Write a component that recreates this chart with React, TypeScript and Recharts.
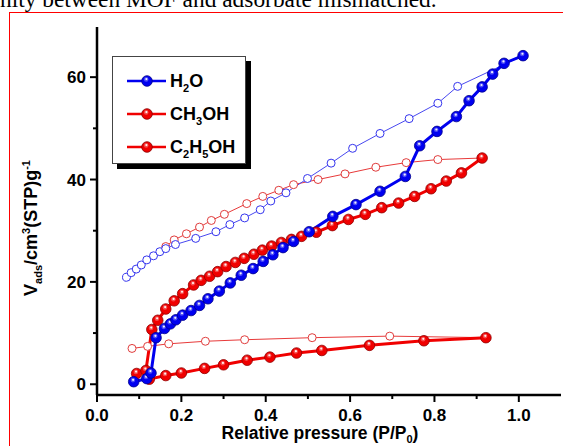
import React from 'react';
import { LineChart, Line, XAxis, YAxis } from 'recharts';

// adsorption (filled) and desorption (open) branches, p = P/P0, v = cm3(STP)/g
const h2oAds = [
  { p: 0.087, v: 0.5 }, { p: 0.118, v: 1.1 }, { p: 0.128, v: 2.2 }, { p: 0.14, v: 9.1 },
  { p: 0.16, v: 10.9 }, { p: 0.174, v: 11.8 }, { p: 0.187, v: 12.6 }, { p: 0.203, v: 13.5 },
  { p: 0.223, v: 14.4 }, { p: 0.243, v: 15.4 }, { p: 0.263, v: 16.7 }, { p: 0.29, v: 18.2 },
  { p: 0.316, v: 19.8 }, { p: 0.342, v: 21.3 }, { p: 0.37, v: 22.6 }, { p: 0.394, v: 24.0 },
  { p: 0.417, v: 25.3 }, { p: 0.441, v: 26.7 }, { p: 0.466, v: 27.9 }, { p: 0.503, v: 29.8 },
  { p: 0.559, v: 32.8 }, { p: 0.614, v: 35.1 }, { p: 0.671, v: 37.7 }, { p: 0.731, v: 40.6 },
  { p: 0.765, v: 46.6 }, { p: 0.806, v: 49.4 }, { p: 0.852, v: 52.3 }, { p: 0.882, v: 55.4 },
  { p: 0.913, v: 58.1 }, { p: 0.938, v: 60.6 }, { p: 0.965, v: 62.7 }, { p: 1.01, v: 64.2 },
];

const h2oDes = [
  { p: 0.07, v: 20.9 }, { p: 0.081, v: 21.8 }, { p: 0.093, v: 22.5 }, { p: 0.105, v: 23.3 },
  { p: 0.118, v: 24.3 }, { p: 0.134, v: 25.1 }, { p: 0.149, v: 25.9 }, { p: 0.163, v: 26.5 },
  { p: 0.186, v: 27.3 }, { p: 0.234, v: 28.5 }, { p: 0.282, v: 29.8 }, { p: 0.315, v: 31.2 },
  { p: 0.35, v: 32.5 }, { p: 0.387, v: 34.1 }, { p: 0.412, v: 35.8 }, { p: 0.448, v: 37.4 },
  { p: 0.499, v: 40.2 }, { p: 0.555, v: 43.2 }, { p: 0.606, v: 46.1 }, { p: 0.671, v: 49.0 },
  { p: 0.74, v: 51.9 }, { p: 0.808, v: 54.9 }, { p: 0.855, v: 58.2 }, { p: 1.01, v: 64.2 },
];

const meohAds = [
  { p: 0.094, v: 2.1 }, { p: 0.116, v: 2.7 }, { p: 0.13, v: 10.7 }, { p: 0.144, v: 12.5 },
  { p: 0.163, v: 14.7 }, { p: 0.183, v: 16.3 }, { p: 0.203, v: 17.7 }, { p: 0.229, v: 19.4 },
  { p: 0.247, v: 20.3 }, { p: 0.267, v: 21.1 }, { p: 0.286, v: 22.0 }, { p: 0.306, v: 23.0 },
  { p: 0.328, v: 23.8 }, { p: 0.349, v: 24.6 }, { p: 0.372, v: 25.4 }, { p: 0.392, v: 26.2 },
  { p: 0.414, v: 27.0 }, { p: 0.437, v: 27.7 }, { p: 0.461, v: 28.3 }, { p: 0.485, v: 28.9 },
  { p: 0.52, v: 29.7 }, { p: 0.558, v: 31.0 }, { p: 0.596, v: 32.2 }, { p: 0.636, v: 33.2 },
  { p: 0.675, v: 34.5 }, { p: 0.715, v: 35.4 }, { p: 0.753, v: 36.7 }, { p: 0.792, v: 38.2 },
  { p: 0.828, v: 39.7 }, { p: 0.864, v: 41.3 }, { p: 0.913, v: 44.2 },
];

const meohDes = [
  { p: 0.163, v: 26.9 }, { p: 0.183, v: 28.2 }, { p: 0.212, v: 29.4 }, { p: 0.243, v: 30.7 },
  { p: 0.271, v: 32.0 }, { p: 0.302, v: 33.2 }, { p: 0.355, v: 35.3 }, { p: 0.393, v: 36.7 },
  { p: 0.431, v: 37.9 }, { p: 0.466, v: 39.0 }, { p: 0.524, v: 40.0 }, { p: 0.588, v: 41.1 },
  { p: 0.661, v: 42.4 }, { p: 0.733, v: 43.3 }, { p: 0.808, v: 43.9 }, { p: 0.913, v: 44.2 },
];

const etohAds = [
  { p: 0.124, v: 1.0 }, { p: 0.163, v: 1.7 }, { p: 0.2, v: 2.2 }, { p: 0.255, v: 3.1 },
  { p: 0.3, v: 3.8 }, { p: 0.356, v: 4.7 }, { p: 0.41, v: 5.3 }, { p: 0.473, v: 6.1 },
  { p: 0.533, v: 6.6 }, { p: 0.646, v: 7.6 }, { p: 0.775, v: 8.5 }, { p: 0.922, v: 9.1 },
];

const etohDes = [
  { p: 0.083, v: 7.0 }, { p: 0.12, v: 7.4 }, { p: 0.17, v: 7.9 }, { p: 0.257, v: 8.4 },
  { p: 0.35, v: 8.7 }, { p: 0.51, v: 9.1 }, { p: 0.694, v: 9.4 }, { p: 0.922, v: 9.1 },
];

const xTicks = [0, 0.1, 0.2, 0.3, 0.4, 0.5, 0.6, 0.7, 0.8, 0.9, 1.0];
const yTicks = [0, 10, 20, 30, 40, 50, 60];

const BLUE = '#0000f0';
const RED = '#f00000';
const FONT = '"Liberation Sans", Arial, sans-serif';

const sphereDot = (base: string, edge: string) => (props: any) => {
  const { cx, cy, index } = props;
  if (cx == null || cy == null) return <g key={`n-${index}`} />;
  return (
    <g key={`s-${index}`}>
      <circle cx={cx} cy={cy} r={5.3} fill={base} stroke={edge} strokeWidth={0.8} />
      <circle cx={cx - 0.8} cy={cy - 1.6} r={2.3} fill="#fff" opacity={0.3} />
      <circle cx={cx - 0.6} cy={cy - 1.9} r={1.1} fill="#fff" opacity={0.9} />
    </g>
  );
};

const openDot = (color: string) => (props: any) => {
  const { cx, cy, index } = props;
  if (cx == null || cy == null) return <g key={`n-${index}`} />;
  return <circle key={`o-${index}`} cx={cx} cy={cy} r={4} fill="#fff" stroke={color} strokeWidth={1} />;
};

const XTick = ({ x, y, payload }: any) => {
  const v = payload.value;
  const major = Math.round(v * 10) % 2 === 0;
  return (
    <g>
      <line x1={x} y1={y} x2={x} y2={y + (major ? 7 : 4)} stroke="#000" strokeWidth={2} />
      {major && (
        <text x={x} y={y + 26} textAnchor="middle" fontFamily={FONT} fontWeight="bold" fontSize={17} fill="#000">
          {v.toFixed(1)}
        </text>
      )}
    </g>
  );
};

const YTick = ({ x, y, payload }: any) => {
  const v = payload.value;
  const major = v % 20 === 0;
  return (
    <g>
      <line x1={x} y1={y} x2={x - (major ? 7 : 4)} y2={y} stroke="#000" strokeWidth={2} />
      {major && (
        <text x={x - 11} y={y + 6} textAnchor="end" fontFamily={FONT} fontWeight="bold" fontSize={17} fill="#000">
          {v}
        </text>
      )}
    </g>
  );
};

const YTitle = () => (
  <text
    x={37}
    y={228}
    transform="rotate(-90 37 228)"
    textAnchor="middle"
    fontFamily={FONT}
    fontWeight="bold"
    fontSize={18}
    fill="#000"
  >
    V<tspan dy={5} fontSize={11}>ads</tspan>
    <tspan dy={-5}>/cm</tspan>
    <tspan dy={-7} fontSize={11}>3</tspan>
    <tspan dy={7}>(STP)g</tspan>
    <tspan dy={-7} fontSize={11}>-1</tspan>
  </text>
);

const XTitle = () => (
  <text x={320} y={439} textAnchor="middle" fontFamily={FONT} fontWeight="bold" fontSize={17.5} fill="#000">
    Relative pressure (P/P<tspan dy={4} fontSize={11}>0</tspan>
    <tspan dy={-4}>)</tspan>
  </text>
);

const legendRows = [
  { parts: ['H', '2', 'O'], color: BLUE, edge: '#00008a' },
  { parts: ['CH', '3', 'OH'], color: RED, edge: '#8a0000' },
  { parts: ['C', '2', 'H', '5', 'OH'], color: RED, edge: '#8a0000' },
];

const LegendBox = () => (
  <div
    style={{
      position: 'absolute',
      left: 112,
      top: 56,
      width: 132,
      height: 106,
      border: '1px solid #444',
      background: '#fff',
      boxShadow: '5px 5px 0 #000',
    }}
  >
    <svg width={132} height={106}>
      {legendRows.map((row, i) => {
        const cy = 24 + i * 33;
        return (
          <g key={i}>
            <line x1={14} y1={cy} x2={53} y2={cy} stroke={row.color} strokeWidth={2.5} />
            {sphereDot(row.color, row.edge)({ cx: 34, cy, index: i })}
            <text x={57} y={cy + 6} fontFamily={FONT} fontWeight="bold" fontSize={18} fill="#000">
              {row.parts.map((t, j) =>
                j % 2 === 1 ? (
                  <tspan key={j} dy={5} fontSize={11}>{t}</tspan>
                ) : (
                  <tspan key={j} dy={j === 0 ? 0 : -5}>{t}</tspan>
                )
              )}
            </text>
          </g>
        );
      })}
    </svg>
  </div>
);

export default function App() {
  const frame = { stroke: '#000', strokeWidth: 2.5 };
  return (
    <div
      style={{
        position: 'absolute',
        left: 0,
        top: 0,
        width: 563,
        height: 446,
        overflow: 'hidden',
        background: '#fff',
      }}
    >
      <div
        style={{
          position: 'absolute',
          left: -32,
          top: -12,
          fontFamily: '"Liberation Serif", "Times New Roman", serif',
          fontSize: 23.4,
          lineHeight: '23.4px',
          whiteSpace: 'nowrap',
          color: '#000',
        }}
      >
        affinity between MOF and adsorbate mismatched.
      </div>
      <div
        style={{
          position: 'absolute',
          left: 9,
          top: 12,
          width: 600,
          height: 500,
          border: '1.5px solid #f00',
        }}
      />
      <div style={{ position: 'absolute', left: 0, top: 0 }}>
        <LineChart width={563} height={446} margin={{ top: 27, right: 2, bottom: 0, left: 0 }}>
          <XAxis
            dataKey="p"
            type="number"
            domain={[0, 1.1]}
            ticks={xTicks}
            interval={0}
            height={51}
            tickSize={0}
            tickMargin={0}
            tickLine={false}
            axisLine={frame}
            tick={(p: any) => <XTick {...p} />}
          />
          <YAxis
            type="number"
            domain={[-2.1, 69.8]}
            ticks={yTicks}
            interval={0}
            width={97}
            tickSize={0}
            tickMargin={0}
            tickLine={false}
            axisLine={frame}
            tick={(p: any) => <YTick {...p} />}
          />
          <XAxis xAxisId="top" orientation="top" type="number" domain={[0, 1.1]} height={0} tick={false} tickLine={false} axisLine={frame} />
          <YAxis yAxisId="right" orientation="right" type="number" domain={[0, 1]} width={0} tick={false} tickLine={false} axisLine={frame} />

          <Line data={etohDes} dataKey="v" type="linear" stroke="#e83a3a" strokeWidth={1} dot={openDot('#e03c3c')} activeDot={false} isAnimationActive={false} />
          <Line data={meohDes} dataKey="v" type="linear" stroke="#e83a3a" strokeWidth={1} dot={openDot('#e03c3c')} activeDot={false} isAnimationActive={false} />
          <Line data={h2oDes} dataKey="v" type="linear" stroke="#4848f0" strokeWidth={1} dot={openDot('#3434ee')} activeDot={false} isAnimationActive={false} />
          <Line data={etohAds} dataKey="v" type="linear" stroke={RED} strokeWidth={3} dot={sphereDot(RED, '#900000')} activeDot={false} isAnimationActive={false} />
          <Line data={meohAds} dataKey="v" type="linear" stroke={RED} strokeWidth={3} dot={sphereDot(RED, '#900000')} activeDot={false} isAnimationActive={false} />
          <Line data={h2oAds} dataKey="v" type="linear" stroke={BLUE} strokeWidth={3} dot={sphereDot(BLUE, '#00008a')} activeDot={false} isAnimationActive={false} />

          <YTitle />
          <XTitle />
        </LineChart>
      </div>
      <LegendBox />
    </div>
  );
}
